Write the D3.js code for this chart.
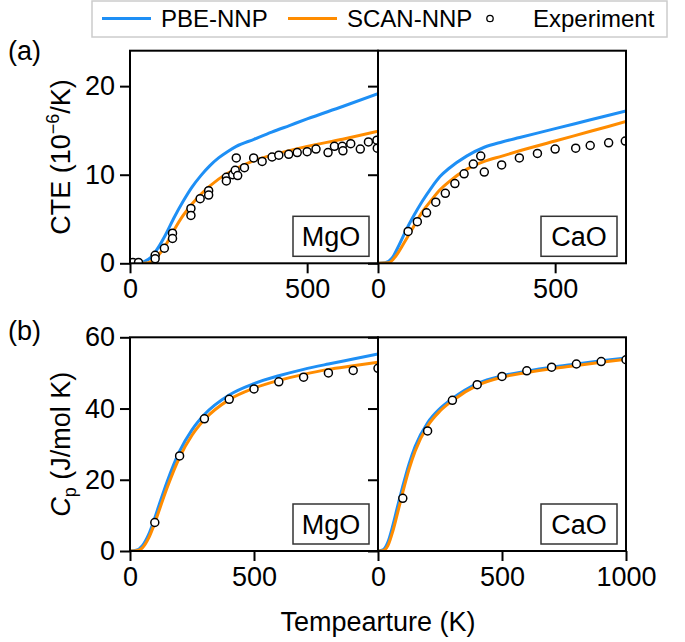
<!DOCTYPE html>
<html>
<head>
<meta charset="utf-8">
<script src="https://cdn.jsdelivr.net/npm/d3@7"></script>
<style>
  body { margin: 0; background: #fff; }
  svg { font-family: "Liberation Sans", Arial, sans-serif; }
</style>
</head>
<body>
<svg></svg>
<script>
// CTE (10^-6/K) vs T (K)
const cteMgoPbe = [[0,0],[20,0],[40,0.2],[60,0.7],[80,1.8],[100,3.2],[125,5.2],[150,7.0],[175,8.6],[200,9.9],[225,11.0],[250,11.9],[275,12.6],[300,13.2],[350,14.0],[400,14.8],[450,15.55],[500,16.3],[600,17.7],[700,19.15]];
const cteMgoScan = [[0,0],[40,0],[60,0.2],[80,0.9],[100,2.0],[125,3.8],[150,5.4],[175,6.7],[200,7.8],[250,9.5],[300,10.7],[350,11.6],[400,12.2],[500,13.2],[600,14.0],[700,14.9]];
const cteMgoExp = [[8,0.1],[24,0.1],[71,0.9],[71,0.5],[97,1.7],[120,3.4],[120,2.8],[172,6.2],[172,5.4],[198,7.3],[222,8.2],[222,7.7],[272,9.7],[272,9.3],[290,10.0],[297,10.5],[300,11.9],[304,9.9],[323,10.8],[349,11.9],[373,11.5],[401,12.0],[420,12.2],[448,12.3],[472,12.5],[500,12.6],[525,12.9],[559,12.5],[577,13.2],[599,13.2],[601,12.7],[623,13.5],[650,12.9],[673,13.7],[697,13.9],[698,13.0]];

const cteCaoPbe = [[0,0],[20,0.05],[40,0.6],[60,2.1],[80,3.8],[100,5.3],[125,7.0],[150,8.5],[175,9.8],[200,10.7],[250,12.1],[300,13.1],[350,13.7],[400,14.2],[500,15.2],[600,16.2],[700,17.2]];
const cteCaoScan = [[0,0],[30,0.05],[50,0.8],[75,2.4],[100,4.1],[125,5.8],[150,7.1],[175,8.3],[200,9.2],[250,10.6],[300,11.5],[350,12.1],[400,12.7],[500,13.8],[600,14.9],[700,16.0]];
const cteCaoExp = [[85,3.6],[111,4.7],[137,5.7],[163,6.9],[190,7.9],[217,9.0],[243,10.1],[269,11.2],[290,12.1],[300,10.3],[349,11.1],[399,11.9],[450,12.4],[500,12.9],[558,13.0],[599,13.3],[651,13.6],[698,13.8]];

// Cp (J/mol K) vs T (K)
const cpMgoPbe = [[0,0],[25,0.2],[50,1.5],[75,4.6],[100,9.3],[125,14.5],[150,19.5],[200,28.0],[250,34.0],[300,38.3],[400,43.8],[500,47.0],[600,49.2],[700,51.0],[800,52.5],[900,53.9],[1000,55.3]];
const cpMgoScan = [[0,0],[25,0.1],[50,0.9],[75,3.6],[100,7.9],[125,12.9],[150,17.8],[200,26.3],[250,32.5],[300,36.9],[400,42.5],[500,45.7],[600,47.9],[700,49.6],[800,51.0],[900,52.0],[1000,53.0]];
const cpMgoExp = [[100,8.0],[200,26.7],[300,37.1],[400,42.6],[500,45.5],[600,47.5],[700,48.8],[800,50.0],[900,50.7],[1000,51.3]];

const cpCaoPbe = [[0,0],[20,0.3],[40,2.5],[60,7.2],[80,12.8],[100,18.2],[125,24.4],[150,29.4],[200,36.0],[250,40.0],[300,42.8],[400,47.0],[500,49.2],[600,50.5],[700,51.6],[800,52.5],[900,53.4],[1000,54.2]];
const cpCaoScan = [[0,0],[20,0.1],[40,1.5],[60,5.6],[80,11.0],[100,16.5],[125,22.9],[150,28.1],[200,35.1],[250,39.3],[300,42.2],[400,46.5],[500,48.8],[600,50.1],[700,51.2],[800,52.1],[900,53.0],[1000,53.8]];
const cpCaoExp = [[100,14.8],[200,33.7],[300,42.3],[400,46.7],[500,49.0],[600,50.6],[700,51.6],[800,52.5],[900,53.2],[1000,53.7]];

const materials = ['MgO', 'CaO'];
const seriesNames = ['PBE-NNP', 'SCAN-NNP', 'Experiment'];
const cteTicksX = [0, 500];
const cteTicksY = [0, 10, 20];
const cpTicksX = [0, 500, 1000];
const cpTicksY = [0, 20, 40, 60];

const blue = '#1e8ff5';
const orange = '#ff8c00';
const fontSize = 27;

const svg = d3.select('svg').attr('width', 685).attr('height', 642);

const panelW = 248;
const colLeft = [130, 378];
const rows = [
  { key: 'a', xDomain: [0, 700], yDomain: [0, 24], top: 50.7, bottom: 263.3,
    xTicks: cteTicksX, yTicks: cteTicksY,
    data: [[cteMgoPbe, cteMgoScan, cteMgoExp], [cteCaoPbe, cteCaoScan, cteCaoExp]] },
  { key: 'b', xDomain: [0, 1000], yDomain: [0, 60], top: 337.3, bottom: 551,
    xTicks: cpTicksX, yTicks: cpTicksY,
    data: [[cpMgoPbe, cpMgoScan, cpMgoExp], [cpCaoPbe, cpCaoScan, cpCaoExp]] }
];

rows.forEach((row, ri) => {
  materials.forEach((mat, ci) => {
    const left = colLeft[ci];
    const x = d3.scaleLinear().domain(row.xDomain).range([0, panelW]);
    const y = d3.scaleLinear().domain(row.yDomain).range([row.bottom, row.top]);
    const g = svg.append('g').attr('transform', `translate(${left},0)`);
    const clipId = `clip-${row.key}-${ci}`;
    g.append('clipPath').attr('id', clipId)
      .append('rect')
      .attr('x', 0).attr('y', row.top)
      .attr('width', panelW).attr('height', row.bottom - row.top);

    const plot = g.append('g').attr('clip-path', `url(#${clipId})`);
    const line = d3.line()
      .x(d => x(d[0]))
      .y(d => y(d[1]))
      .curve(d3.curveMonotoneX);
    const [pbe, scan, exp] = row.data[ci];
    plot.append('path').datum(pbe)
      .attr('d', line).attr('fill', 'none')
      .attr('stroke', blue).attr('stroke-width', 3);
    plot.append('path').datum(scan)
      .attr('d', line).attr('fill', 'none')
      .attr('stroke', orange).attr('stroke-width', 3);
    plot.append('g').selectAll('circle')
      .data(exp)
      .enter().append('circle')
      .attr('cx', d => x(d[0]))
      .attr('cy', d => y(d[1]))
      .attr('r', 4)
      .attr('fill', '#fff')
      .attr('stroke', '#000')
      .attr('stroke-width', 1.5);

    // axes
    let xt = row.xTicks;
    if (ci === 0 && row.key === 'b') xt = xt.filter(t => t < 1000);
    const xAxis = g.append('g')
      .attr('transform', `translate(0,${row.bottom})`)
      .call(d3.axisBottom(x).tickValues(xt).tickSize(10).tickPadding(6).tickSizeOuter(0)
        .tickFormat(d3.format('d')));
    const yAxis = g.append('g')
      .call(d3.axisLeft(y).tickValues(row.yTicks).tickSize(10).tickPadding(5).tickSizeOuter(0)
        .tickFormat(ci === 0 ? d3.format('d') : ''));
    [xAxis, yAxis].forEach(a => {
      a.select('.domain').remove();
      a.selectAll('.tick line').attr('stroke', '#000').attr('stroke-width', 2);
      a.selectAll('.tick text').attr('fill', '#000')
        .attr('font-size', fontSize).attr('font-family', '"Liberation Sans", Arial, sans-serif');
    });

    g.append('rect')
      .attr('x', 0).attr('y', row.top)
      .attr('width', panelW).attr('height', row.bottom - row.top)
      .attr('fill', 'none').attr('stroke', '#000').attr('stroke-width', 2);

    // material tag
    const tagW = 76, tagH = 40;
    const tx = panelW - 9 - tagW, ty = row.bottom - 7 - tagH;
    g.append('rect')
      .attr('x', tx).attr('y', ty).attr('width', tagW).attr('height', tagH)
      .attr('fill', '#fff').attr('stroke', '#333').attr('stroke-width', 1.5);
    g.append('text')
      .attr('x', tx + tagW / 2).attr('y', ty + tagH / 2 + 10)
      .attr('text-anchor', 'middle')
      .attr('font-size', fontSize)
      .text(mat);
  });
});

// panel letters
svg.append('text').attr('x', 8).attr('y', 60).attr('font-size', fontSize).text('(a)');
svg.append('text').attr('x', 8).attr('y', 340).attr('font-size', fontSize).text('(b)');

// y titles
const cteTitle = svg.append('text')
  .attr('transform', `translate(70,${(50.7 + 263.3) / 2}) rotate(-90)`)
  .attr('text-anchor', 'middle').attr('font-size', fontSize);
cteTitle.append('tspan').text('CTE (10');
cteTitle.append('tspan').attr('font-size', 18).attr('dy', -11).text('\u22126');
cteTitle.append('tspan').attr('dy', 11).text('/K)');

const cpTitle = svg.append('text')
  .attr('transform', `translate(70,${(337.3 + 551) / 2}) rotate(-90)`)
  .attr('text-anchor', 'middle').attr('font-size', fontSize);
cpTitle.append('tspan').attr('font-style', 'italic').text('C');
cpTitle.append('tspan').attr('font-size', 18).attr('dy', 6).text('p');
cpTitle.append('tspan').attr('dy', -6).text(' (J/mol K)');

// x title
svg.append('text')
  .attr('x', 378).attr('y', 631)
  .attr('text-anchor', 'middle').attr('font-size', fontSize)
  .text('Tempearture (K)');

// legend
const legend = svg.append('g');
legend.append('rect')
  .attr('x', 92).attr('y', 1).attr('width', 575).attr('height', 36)
  .attr('fill', '#fff').attr('stroke', '#ccc').attr('stroke-width', 1.5);
const legendItems = [
  { name: seriesNames[0], kind: 'line', color: blue, x0: 102 },
  { name: seriesNames[1], kind: 'line', color: orange, x0: 288 },
  { name: seriesNames[2], kind: 'dot', color: '#000', x0: 466 }
];
legendItems.forEach(it => {
  if (it.kind === 'line') {
    legend.append('line')
      .attr('x1', it.x0).attr('x2', it.x0 + 49)
      .attr('y1', 18.5).attr('y2', 18.5)
      .attr('stroke', it.color).attr('stroke-width', 3);
    legend.append('text').attr('x', it.x0 + 59).attr('y', 27)
      .attr('font-size', 24).text(it.name);
  } else {
    legend.append('circle')
      .attr('cx', it.x0 + 24).attr('cy', 18.5).attr('r', 3.2)
      .attr('fill', '#fff').attr('stroke', '#000').attr('stroke-width', 1.3);
    legend.append('text').attr('x', it.x0 + 67).attr('y', 27)
      .attr('font-size', 24).text(it.name);
  }
});
</script>
</body>
</html>
